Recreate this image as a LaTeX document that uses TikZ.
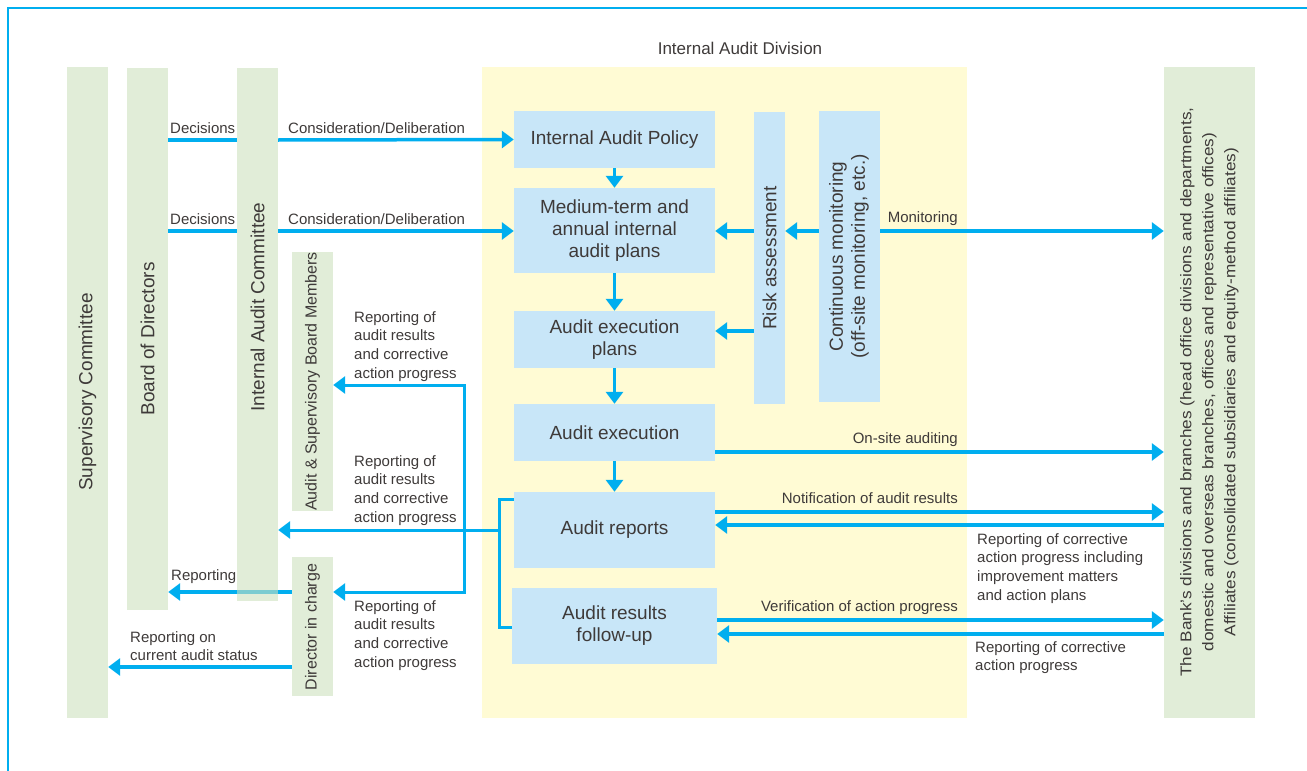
\documentclass[tikz,border=0pt]{standalone}
\usepackage{fontspec}
\setmainfont{Liberation Sans}
\usepackage{graphicx}
\usetikzlibrary{arrows.meta}
\definecolor{cy}{HTML}{00AEEF}
\definecolor{lb}{HTML}{C8E6F8}
\definecolor{yl}{HTML}{FFFBD4}
\definecolor{gr}{HTML}{E1EDD8}
\definecolor{grt}{RGB}{205,225,190}
\definecolor{tx}{HTML}{3E3A39}
\pgfdeclarelayer{bg}
\pgfsetlayers{bg,main}
\begin{document}
\begin{tikzpicture}[x=1pt, y=-1pt,
  box/.style={fill=lb, inner sep=0pt, text=tx, font=\fontsize{19}{22}\selectfont, align=center},
  bar/.style={fill=gr, inner sep=0pt},
  vt/.style={text=tx, inner sep=0pt, font=\fontsize{19}{22}\selectfont},
  lab/.style={text=tx, inner sep=0pt, font=\fontsize{15}{18.7}\selectfont, align=left},
  arr/.style={draw=cy, line width=3.5pt, -{Triangle[length=12pt,width=17pt]}},
  arrb/.style={draw=cy, line width=3pt, {Triangle[length=12pt,width=17pt]}-{Triangle[length=12pt,width=17pt]}},
  ln/.style={draw=cy, line width=3.5pt},
  brk/.style={draw=cy, line width=3pt}
]
\useasboundingbox (0,0) rectangle (1307,771);
\draw[cy, line width=2.5pt] (8,771) -- (8,8) -- (1307,8);

% Internal Audit Division area
\node[fill=yl, inner sep=0pt, minimum width=485pt, minimum height=651pt] (iad) at (724.5,392.5) {};
\node[text=tx, inner sep=0pt, font=\fontsize{17}{20}\selectfont] (iadt) at (740,48) {Internal Audit Division};

% green bars
\node[bar, minimum width=41pt, minimum height=651pt] (sc) at (87.5,392.5) {};
\node[vt] (sct) at (87.5,392) {\rotatebox{90}{Supervisory Committee}};
\node[bar, minimum width=41pt, minimum height=542pt] (bod) at (147.5,339) {};
\node[vt] (bodt) at (147.5,339) {\rotatebox{90}{Board of Directors}};
\node[fill=grt, fill opacity=0.6, inner sep=0pt, minimum width=41pt, minimum height=533pt] (iac) at (257.5,334.5) {};
\node[vt] (iact) at (257.5,307) {\rotatebox{90}{Internal Audit Committee}};
\node[bar, minimum width=41pt, minimum height=259pt] (asbm) at (312.5,381.5) {};
\node[vt, font=\fontsize{16}{19}\selectfont] (asbmt) at (312.5,381.5) {\rotatebox{90}{Audit \& Supervisory Board Members}};
\node[bar, minimum width=41pt, minimum height=139pt] (dic) at (312.5,626.5) {};
\node[vt, font=\fontsize{16}{19}\selectfont] (dict) at (312.5,627) {\rotatebox{90}{Director in charge}};
\node[bar, minimum width=91pt, minimum height=651pt] (bank) at (1209.5,392.5) {};
\node[vt, font=\fontsize{15.5}{22}\selectfont] (bankt) at (1209,392) {\rotatebox{90}{\scalebox{1.11}[1]{\begin{tabular}{@{}c@{}}The Bank’s divisions and branches (head office divisions and departments,\\domestic and overseas branches, offices and representative offices)\\Affiliates (consolidated subsidiaries and equity-method affiliates)\end{tabular}}}};

% blue boxes
\node[box, minimum width=201pt, minimum height=57pt] (pol) at (614.5,139.5) {Internal Audit Policy};
\node[box, minimum width=201pt, minimum height=85pt] (med) at (614.5,230.5) {Medium-term and\\annual internal\\audit plans};
\node[box, minimum width=201pt, minimum height=57pt] (aep) at (614.5,339.5) {Audit execution\\plans};
\node[box, minimum width=201pt, minimum height=57pt] (ae) at (614.5,432.5) {Audit execution};
\node[box, minimum width=201pt, minimum height=76pt] (ar) at (614.5,530) {Audit reports};
\node[box, minimum width=205pt, minimum height=76pt] (fu) at (614.5,626) {Audit results\\follow-up};
\node[box, minimum width=31pt, minimum height=292pt] (ra) at (769.5,258) {\rotatebox{90}{Risk assessment}};
\node[box, minimum width=61pt, minimum height=291pt] (cm) at (849.5,256.5) {\rotatebox{90}{\begin{tabular}{@{}c@{}}Continuous monitoring\\(off-site monitoring, etc.)\end{tabular}}};

% top connectors
\draw[ln] (bod.east |- 0,140) -- (iac.west |- 0,140);
\draw[arr] (iac.east |- 0,140) -- (pol.west);
\draw[ln] (bod.east |- 0,231) -- (iac.west |- 0,231);
\draw[arr] (iac.east |- 0,231) -- (med.west |- 0,231);
\draw[arr] (pol.south) -- (med.north);
\draw[arr] (med.south) -- (aep.north);
\draw[arr] (aep.south) -- (ae.north);
\draw[arr] (ae.south) -- (ar.north);
\draw[arr] (ra.west |- 0,231) -- (med.east |- 0,231);
\draw[arr] (ra.west |- 0,331) -- (aep.east |- 0,331);
\draw[arr] (cm.west |- 0,231) -- (ra.east |- 0,231);
\draw[arr] (cm.east |- 0,231) -- (bank.west |- 0,231);
\draw[arr] (ae.east |- 0,452) -- (bank.west |- 0,452);
\draw[arr] (ar.east |- 0,512) -- (bank.west |- 0,512);
\draw[arr] (bank.west |- 0,525) -- (ar.east |- 0,525);
\draw[arr] (fu.east |- 0,620) -- (bank.west |- 0,620);
\draw[arr] (bank.west |- 0,634) -- (fu.east |- 0,634);

% left reporting network
\coordinate (jn) at (499,530);
\coordinate (sp1) at (464,385);
\coordinate (sp2) at (464,592);
\draw[brk] (ar.west |- 0,499) -- (jn |- 0,499) -- (jn |- 0,627) -- (fu.west |- 0,627);
\draw[arr, line width=3pt] (jn) -- (iac.east |- jn);
\draw[arrb] (asbm.east |- sp1) -- (sp1) -- (sp2) -- (dic.east |- sp2);
\begin{pgfonlayer}{bg}
\draw[arr] (dic.west |- 0,592) -- (bod.east |- 0,592);
\end{pgfonlayer}
\draw[arr] (dic.west |- 0,667) -- (sc.east |- 0,667);

% labels
\node[lab, anchor=base west] (d1) at (170,133) {Decisions};
\node[lab, anchor=base west] (c1) at (288,133) {Consideration/Deliberation};
\node[lab, anchor=base west] (d2) at (170,224) {Decisions};
\node[lab, anchor=base west] (c2) at (288,224) {Consideration/Deliberation};
\node[lab, anchor=base east] (mo) at (958,222) {Monitoring};
\node[lab, anchor=base east] (os) at (958,443) {On-site auditing};
\node[lab, anchor=base east] (nt) at (958,503) {Notification of audit results};
\node[lab, anchor=base east] (ve) at (958,611) {Verification of action progress};
\node[lab, anchor=north west] (rc1) at (977,533) {Reporting of corrective\\action progress including\\improvement matters\\and action plans};
\node[lab, anchor=north west] (rc2) at (975,641) {Reporting of corrective\\action progress};
\node[lab, anchor=north west] (rl1) at (354,311) {Reporting of\\audit results\\and corrective\\action progress};
\node[lab, anchor=north west] (rl2) at (354,455) {Reporting of\\audit results\\and corrective\\action progress};
\node[lab, anchor=north west] (rl3) at (354,600) {Reporting of\\audit results\\and corrective\\action progress};
\node[lab, anchor=base west] (rep) at (171,580) {Reporting};
\node[lab, anchor=north west] (rcs) at (130,631) {Reporting on\\current audit status};
\end{tikzpicture}
\end{document}
